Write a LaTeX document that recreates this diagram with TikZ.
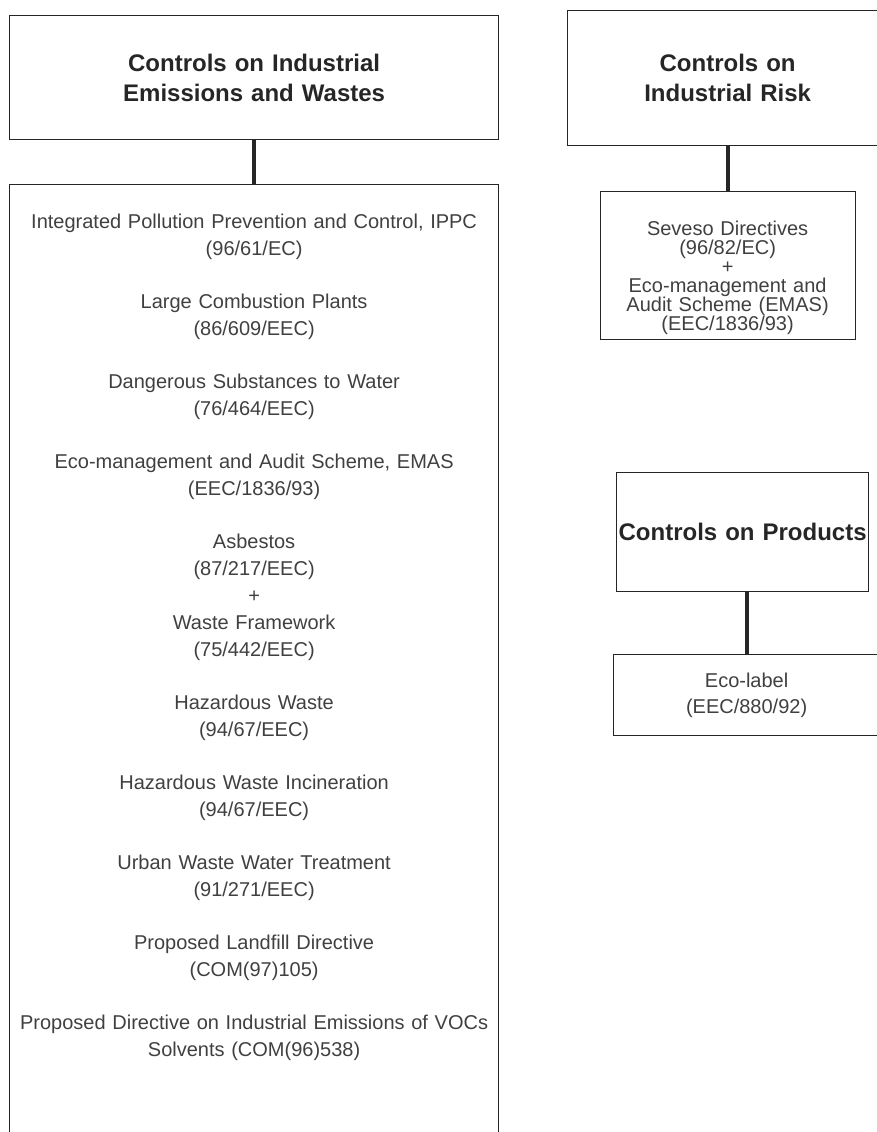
\documentclass[tikz,border=0pt]{standalone}
\usepackage{xcolor}
\usepackage{fontspec}
\setmainfont{Liberation Sans}
\usepackage{tikz}
\usetikzlibrary{positioning}

\begin{document}
\begin{tikzpicture}[x=1pt, y=-1pt,
    headbox/.style={rectangle, draw=black!85, line width=1.2pt, text=black!85, align=center, font=\fontsize{24}{30}\selectfont\bfseries},
    lawbox/.style={rectangle, draw=black!85, line width=1.2pt, text=black!75, align=center, font=\fontsize{20}{26}\selectfont},
    lawtext/.style={inner sep=0pt, text=black!75, align=center},
    link/.style={draw=black!85, line width=4pt}]
    \useasboundingbox (0,0) rectangle (877,1132);
    \clip (0,0) rectangle (877,1132);

    % Emissions and wastes - left column
    \node [headbox, anchor=north west, text width=470pt, minimum width=489pt, minimum height=124pt] (emishead) at (9,15) {
        Controls on Industrial\\
        Emissions and Wastes
    };
    \node [lawbox, minimum width=489pt, minimum height=960pt, below=44pt of emishead] (emisbox) {};
    \node [lawtext, text width=486pt, font=\fontsize{20}{27}\selectfont, below=30pt of emisbox.north] (emislist) {
        Integrated Pollution Prevention and Control, IPPC\\
        (96/61/EC)\\[26pt]
        Large Combustion Plants\\
        (86/609/EEC)\\[26pt]
        Dangerous Substances to Water\\
        (76/464/EEC)\\[26pt]
        Eco-management and Audit Scheme, EMAS\\
        (EEC/1836/93)\\[26pt]
        Asbestos\\
        (87/217/EEC)\\
        +\\
        Waste Framework\\
        (75/442/EEC)\\[26pt]
        Hazardous Waste\\
        (94/67/EEC)\\[26pt]
        Hazardous Waste Incineration\\
        (94/67/EEC)\\[26pt]
        Urban Waste Water Treatment\\
        (91/271/EEC)\\[26pt]
        Proposed Landfill Directive\\
        (COM(97)105)\\[26pt]
        Proposed Directive on Industrial Emissions of VOCs\\
        Solvents (COM(96)538)
    };

    % Industrial risk - right column, top
    \node [headbox, anchor=north west, text width=300pt, minimum width=320pt, minimum height=135pt] (riskhead) at (567,10) {
        Controls on\\
        Industrial Risk
    };
    \node [lawbox, minimum width=255pt, minimum height=148pt, below=45pt of riskhead] (sevesobox) {};
    \node [lawtext, text width=250pt, font=\fontsize{20}{19}\selectfont, below=30pt of sevesobox.north] (sevesolist) {
        Seveso Directives\\
        (96/82/EC)\\
        +\\
        Eco-management and\\
        Audit Scheme (EMAS)\\
        (EEC/1836/93)
    };

    % Products - right column, bottom
    \node [headbox, anchor=north west, text width=248pt, inner xsep=2pt, minimum width=252pt, minimum height=119pt] (prodhead) at (616,472) {
        Controls on Products
    };
    \node [lawbox, text width=250pt, minimum width=266pt, minimum height=81pt, below=62pt of prodhead, xshift=4pt] (ecobox) {
        Eco-label\\
        (EEC/880/92)
    };

    % Connectors
    \draw [link] (emishead) -- (emisbox);
    \draw [link] (riskhead) -- (sevesobox);
    \draw [link] (ecobox.north |- prodhead.south) -- (ecobox.north);
\end{tikzpicture}
\end{document}
